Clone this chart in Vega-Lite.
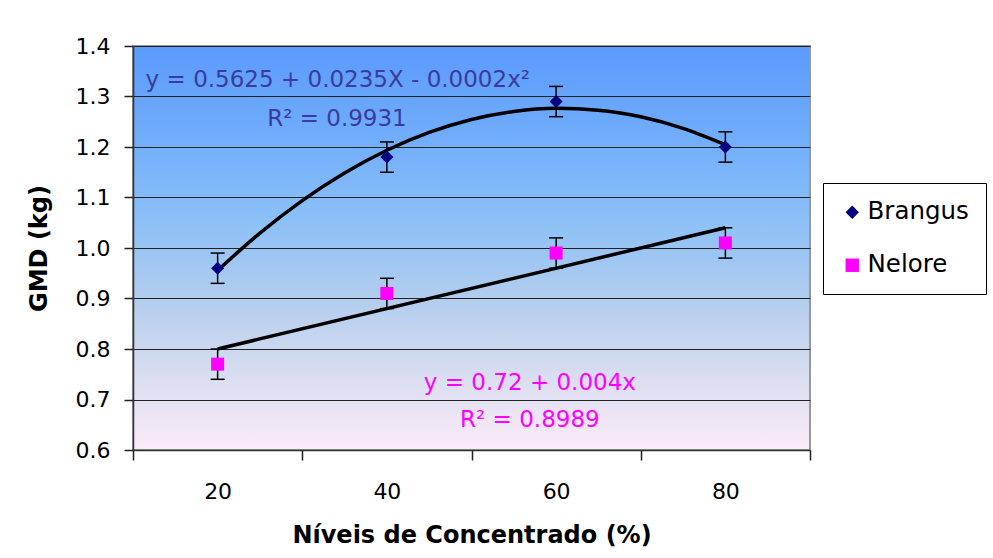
{
  "$schema": "https://vega.github.io/schema/vega-lite/v6.json",
  "autosize": "none",
  "width": 677,
  "height": 404,
  "padding": {"left": 133, "top": 46, "right": 183, "bottom": 108},
  "background": "white",
  "datasets": {
    "pts": [
      {"raca": "Brangus", "nivel": 20, "gmd": 0.96, "lo": 0.93, "hi": 0.99},
      {"raca": "Brangus", "nivel": 40, "gmd": 1.18, "lo": 1.15, "hi": 1.21},
      {"raca": "Brangus", "nivel": 60, "gmd": 1.29, "lo": 1.26, "hi": 1.32},
      {"raca": "Brangus", "nivel": 80, "gmd": 1.20, "lo": 1.17, "hi": 1.23},
      {"raca": "Nelore", "nivel": 20, "gmd": 0.77, "lo": 0.74, "hi": 0.80},
      {"raca": "Nelore", "nivel": 40, "gmd": 0.91, "lo": 0.88, "hi": 0.94},
      {"raca": "Nelore", "nivel": 60, "gmd": 0.99, "lo": 0.96, "hi": 1.02},
      {"raca": "Nelore", "nivel": 80, "gmd": 1.01, "lo": 0.98, "hi": 1.04}
    ],
    "fit": [
      {"raca": "Brangus", "nivel": 20, "gmd": 0.9555},
      {"raca": "Brangus", "nivel": 25, "gmd": 1.0295},
      {"raca": "Brangus", "nivel": 30, "gmd": 1.0939},
      {"raca": "Brangus", "nivel": 35, "gmd": 1.1485},
      {"raca": "Brangus", "nivel": 40, "gmd": 1.1935},
      {"raca": "Brangus", "nivel": 45, "gmd": 1.2288},
      {"raca": "Brangus", "nivel": 50, "gmd": 1.2544},
      {"raca": "Brangus", "nivel": 55, "gmd": 1.2703},
      {"raca": "Brangus", "nivel": 60, "gmd": 1.2765},
      {"raca": "Brangus", "nivel": 65, "gmd": 1.2730},
      {"raca": "Brangus", "nivel": 70, "gmd": 1.2599},
      {"raca": "Brangus", "nivel": 75, "gmd": 1.2370},
      {"raca": "Brangus", "nivel": 80, "gmd": 1.2045},
      {"raca": "Nelore", "nivel": 20, "gmd": 0.80},
      {"raca": "Nelore", "nivel": 80, "gmd": 1.04}
    ],
    "notes": [
      {"raca": "Brangus", "nivel": 34.2, "gmd": 1.319, "texto": "y = 0.5625 + 0.0235X - 0.0002x²"},
      {"raca": "Brangus", "nivel": 34.1, "gmd": 1.242, "texto": "R² = 0.9931"},
      {"raca": "Nelore", "nivel": 56.9, "gmd": 0.719, "texto": "y = 0.72 + 0.004x"},
      {"raca": "Nelore", "nivel": 56.9, "gmd": 0.646, "texto": "R² = 0.8989"}
    ]
  },
  "encoding": {
    "x": {
      "field": "nivel", "type": "quantitative",
      "scale": {"domain": [10, 90], "nice": false, "zero": false},
      "axis": {
        "title": "Níveis de Concentrado (%)",
        "values": [10, 20, 30, 40, 50, 60, 70, 80, 90],
        "labelExpr": "datum.value % 20 == 0 ? datum.label : ''",
        "tickOpacity": {"condition": {"test": "datum.value % 20 == 0", "value": 0}, "value": 1},
        "labelOverlap": false,
        "grid": false,
        "tickSize": 10,
        "labelPadding": 21,
        "titlePadding": 21
      }
    },
    "y": {
      "type": "quantitative",
      "scale": {"domain": [0.6, 1.4], "nice": false, "zero": false},
      "axis": {
        "title": "GMD (kg)",
        "values": [0.6, 0.7, 0.8, 0.9, 1.0, 1.1, 1.2, 1.3, 1.4],
        "format": ".1f",
        "grid": true,
        "gridColor": "#222",
        "gridWidth": 1,
        "tickSize": 9,
        "labelPadding": 14,
        "titlePadding": 24
      }
    }
  },
  "layer": [
    {
      "data": {"name": "pts"},
      "mark": {"type": "rule", "color": "black", "strokeWidth": 1.5},
      "encoding": {"y": {"field": "lo", "type": "quantitative"}, "y2": {"field": "hi"}}
    },
    {
      "data": {"name": "pts"},
      "mark": {"type": "tick", "orient": "horizontal", "size": 14, "thickness": 1.5, "color": "black", "opacity": 1},
      "encoding": {"y": {"field": "lo", "type": "quantitative"}}
    },
    {
      "data": {"name": "pts"},
      "mark": {"type": "tick", "orient": "horizontal", "size": 14, "thickness": 1.5, "color": "black", "opacity": 1},
      "encoding": {"y": {"field": "hi", "type": "quantitative"}}
    },
    {
      "data": {"name": "fit"},
      "mark": {"type": "line", "color": "black", "strokeWidth": 3.5, "interpolate": "monotone"},
      "encoding": {"y": {"field": "gmd", "type": "quantitative"}, "detail": {"field": "raca"}}
    },
    {
      "data": {"name": "pts"},
      "mark": {"type": "point", "filled": true, "opacity": 1, "size": 170, "strokeWidth": 0},
      "encoding": {
        "y": {"field": "gmd", "type": "quantitative"},
        "color": {"field": "raca", "type": "nominal",
          "scale": {"domain": ["Brangus", "Nelore"], "range": ["#000080", "#ff00ff"]},
          "legend": {"title": null, "orient": "none", "legendX": 690, "legendY": 137,
            "strokeColor": "black", "fillColor": "white", "padding": 17,
            "labelFontSize": 24.5, "labelColor": "black", "labelOffset": 3,
            "symbolSize": 180, "rowPadding": 28, "symbolStrokeWidth": 0, "symbolOpacity": 1}},
        "shape": {"field": "raca", "type": "nominal",
          "scale": {"domain": ["Brangus", "Nelore"], "range": ["diamond", "square"]}}
      }
    },
    {
      "data": {"name": "notes"},
      "transform": [{"filter": "datum.raca == 'Brangus'"}],
      "mark": {"type": "text", "color": "#3b3b9e", "fontSize": 23, "align": "center", "baseline": "alphabetic"},
      "encoding": {"y": {"field": "gmd", "type": "quantitative"}, "text": {"field": "texto"}}
    },
    {
      "data": {"name": "notes"},
      "transform": [{"filter": "datum.raca == 'Nelore'"}],
      "mark": {"type": "text", "color": "#ff00ff", "fontSize": 23, "align": "center", "baseline": "alphabetic"},
      "encoding": {"y": {"field": "gmd", "type": "quantitative"}, "text": {"field": "texto"}}
    }
  ],
  "config": {
    "font": "DejaVu Sans",
    "view": {
      "fill": {"gradient": "linear", "x1": 0, "y1": 0, "x2": 0, "y2": 1,
        "stops": [
          {"offset": 0, "color": "#5a9afc"},
          {"offset": 0.26, "color": "#74b0fb"},
          {"offset": 0.455, "color": "#90c2f6"},
          {"offset": 0.63, "color": "#b3cdee"},
          {"offset": 0.8, "color": "#d6dcf0"},
          {"offset": 1, "color": "#fcebf8"}
        ]},
      "stroke": "#999",
      "strokeWidth": 2
    },
    "axis": {
      "labelFont": "DejaVu Sans",
      "labelFontSize": 22,
      "labelColor": "black",
      "titleFont": "DejaVu Sans",
      "titleFontSize": 24,
      "titleFontWeight": "bold",
      "titleColor": "black",
      "domainColor": "#333",
      "domainWidth": 1.5,
      "tickColor": "#222",
      "tickWidth": 1.5
    },
    "legend": {"labelFont": "DejaVu Sans"}
  }
}
